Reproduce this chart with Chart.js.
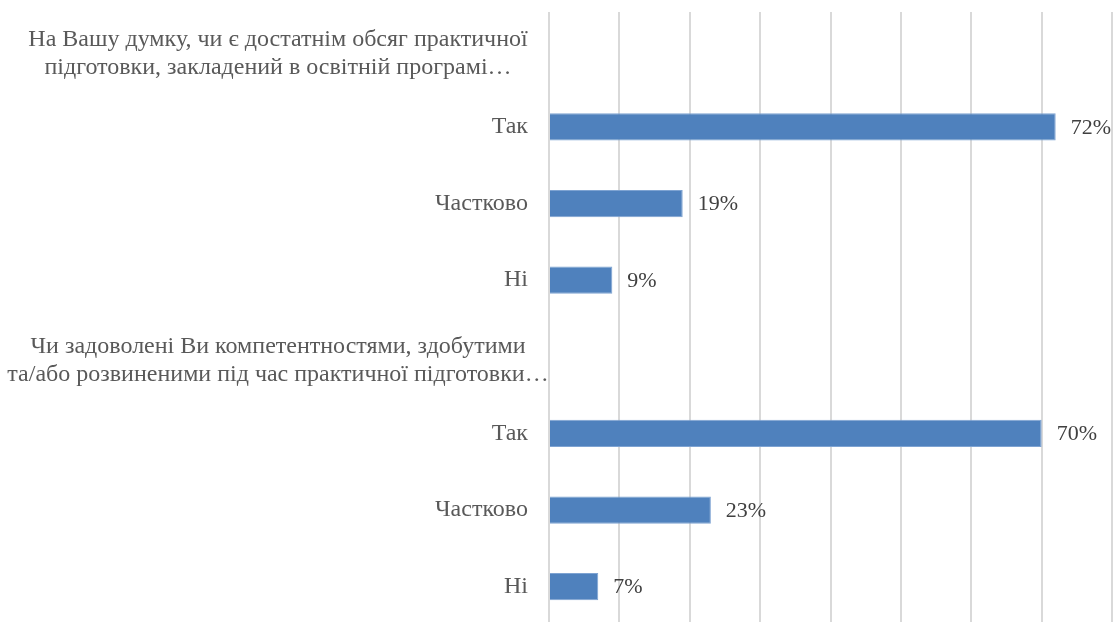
<!DOCTYPE html>
<html>
<head>
<meta charset="utf-8">
<script src="https://cdn.jsdelivr.net/npm/chart.js@4"></script>
<style>
	html, body { margin: 0; padding: 0; background: #fff; overflow: hidden; }
	#wrap { width: 1117px; height: 625px; }
</style>
</head>
<body>
<div id="wrap"><canvas id="surveyChart"></canvas></div>
<script>
// data block
const questions = [
	['На Вашу думку, чи є достатнім обсяг практичної', 'підготовки, закладений в освітній програмі…'],
	['Чи задоволені Ви компетентностями, здобутими', 'та/або розвиненими під час практичної підготовки…'],
];
const answers = ['Так', 'Частково', 'Ні'];
const q1Values = [72, 19, 9];
const q2Values = [70, 23, 7];
const axisTicks = [0, 10, 20, 30, 40, 50, 60, 70, 80];

// each question is a row of its own, with no bar
const labels = [questions[0], ...answers, questions[1], ...answers];
const values = [null, ...q1Values, null, ...q2Values];

const serif = "'Liberation Serif', 'Times New Roman', serif";

// question titles, centred over the label column
const questionTitles = {
	id: 'questionTitles',
	afterDraw(chart) {
		const ctx = chart.ctx;
		const yScale = chart.scales.y;
		ctx.save();
		ctx.font = '24px ' + serif;
		ctx.fillStyle = '#595959';
		ctx.textAlign = 'center';
		ctx.textBaseline = 'alphabetic';
		labels.forEach((lab, i) => {
			if (!Array.isArray(lab)) return;
			const y = yScale.getPixelForTick(i);
			ctx.fillText(lab[0], 278, y - 4);
			ctx.fillText(lab[1], 278, y + 24);
		});
		ctx.restore();
	},
};

// value labels to the right of the bars
const valueLabels = {
	id: 'valueLabels',
	afterDatasetsDraw(chart) {
		const ctx = chart.ctx;
		const meta = chart.getDatasetMeta(0);
		ctx.save();
		ctx.font = '22px ' + serif;
		ctx.fillStyle = '#404040';
		ctx.textAlign = 'left';
		ctx.textBaseline = 'middle';
		meta.data.forEach((bar, i) => {
			const v = values[i];
			if (v === null) return;
			ctx.fillText(v + '%', bar.x + 15, bar.y + 1);
		});
		ctx.restore();
	},
};

// config block
const config = {
	type: 'bar',
	data: {
		labels,
		datasets: [
			{
				data: values,
				backgroundColor: '#4f81bd',
				borderColor: '#7ea3d2',
				borderWidth: 1,
				categoryPercentage: 1,
				barPercentage: 0.355,
			},
		],
	},
	options: {
		indexAxis: 'y',
		responsive: true,
		maintainAspectRatio: false,
		animation: false,
		layout: { padding: { top: 12, right: 5, bottom: 0, left: 0 } },
		plugins: {
			legend: { display: false },
			tooltip: { enabled: false },
		},
		scales: {
			x: {
				min: 0,
				max: 80,
				afterBuildTicks: (scale) => {
					scale.ticks = axisTicks.map((v) => ({ value: v }));
				},
				ticks: { display: false },
				grid: { color: '#d9d9d9', lineWidth: 2, drawTicks: false },
				border: { display: false },
			},
			y: {
				grid: { display: false, drawTicks: false },
				border: { display: false },
				afterFit: (scale) => {
					scale.width = 549;
					// no extra room above the first row or below the last
					scale.paddingTop = 0;
					scale.paddingBottom = 0;
				},
				ticks: {
					padding: 21,
					color: '#595959',
					font: { family: serif, size: 24 },
					callback: function (value, index) {
						const lab = labels[index];
						return Array.isArray(lab) ? '' : lab;
					},
				},
			},
		},
	},
	plugins: [questionTitles, valueLabels],
};

// render block
const surveyChart = new Chart(document.getElementById('surveyChart'), config);
</script>
</body>
</html>
